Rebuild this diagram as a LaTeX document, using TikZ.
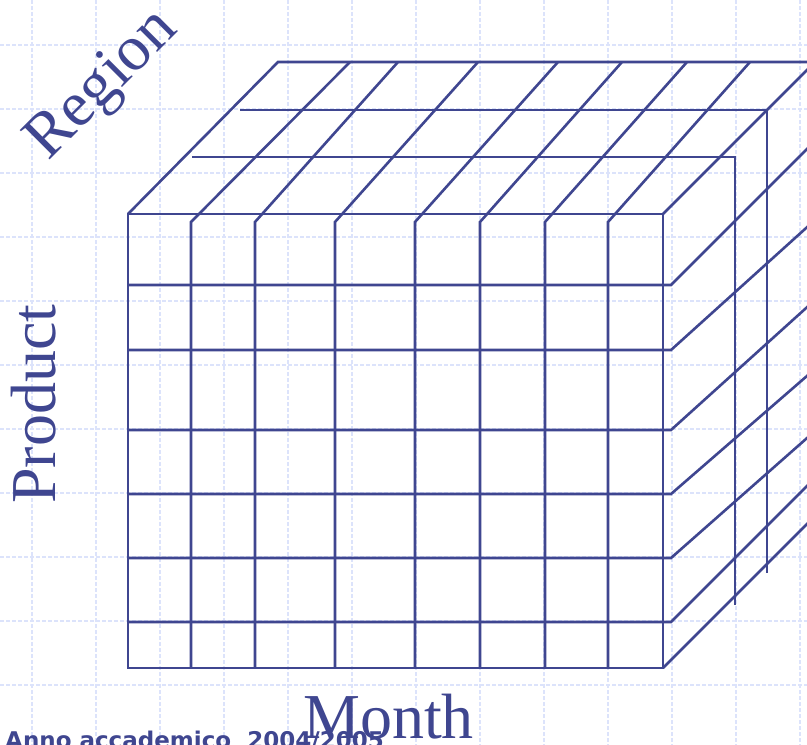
\documentclass[tikz,border=0pt]{standalone}
\usepackage{fontspec}
\setmainfont{Liberation Serif}
\newfontfamily\notefont{DejaVu Sans}
\definecolor{CubeNavy}{HTML}{3F4690}
\definecolor{GridBlue}{HTML}{DCE3FB}
\tikzset{
    % lines of the data cube
    cube line/.style={
        draw=CubeNavy,
        line width=2.6pt,
        line join=miter
    },
    % light dashed background grid
    grid line/.style={
        draw=GridBlue,
        line width=1.2pt,
        dash pattern=on 4pt off 2pt
    },
    axis label/.style={
        text=CubeNavy,
        inner sep=0pt,
        font=\fontsize{64}{64}\selectfont
    },
    note label/.style={
        text=CubeNavy,
        inner sep=0pt,
        font=\notefont\bfseries\fontsize{23}{23}\selectfont
    }
}

\begin{document}
\begin{tikzpicture}[x=1pt, y=-1pt]
        \clip (0,0) rectangle (807,745);
        \fill[white] (0,0) rectangle (807,745);

        % Background grid
        \foreach \gx in {32,96,...,800} \draw[grid line] (\gx,0) -- (\gx,745);
        \foreach \gy in {45,109,...,700} \draw[grid line] (0,\gy) -- (807,\gy);

        % Front face and outer edges
        \draw[cube line] (128,214) rectangle (663,668);
        \draw[cube line] (128,214) -- (278,62) -- (815,62);
        \draw[cube line] (663,214) -- (815,62);
        \draw[cube line] (663,668) -- (815,516);

        % Month columns running over the top
        \foreach \fx/\bx in {191/350, 255/398, 335/478, 415/558, 480/622, 545/687, 608/750}
            \draw[cube line] (\fx,668) -- (\fx,222) -- (\bx,62);

        % Product rows running over the right side
        \foreach \fy/\by in {285/141, 350/220, 430/300, 494/369, 558/431, 622/478}
            \draw[cube line] (128,\fy) -- (671,\fy) -- (815,\by);

        % Region layers
        \draw[cube line] (192,157) -- (735,157) -- (735,605);
        \draw[cube line] (240,110) -- (767,110) -- (767,573);

        % Axis labels
        \node[axis label, anchor=base west, rotate=45] (region) at (48,162) {Region};
        \node[axis label, anchor=base west, rotate=90] (product) at (55,504) {Product};
        \node[note label, anchor=base west] (year) at (5,748) {Anno accademico\hspace{0.7em}2004/2005};
        \node[axis label, anchor=base west] (month) at (303,738) {Month};
    \end{tikzpicture}
\end{document}
